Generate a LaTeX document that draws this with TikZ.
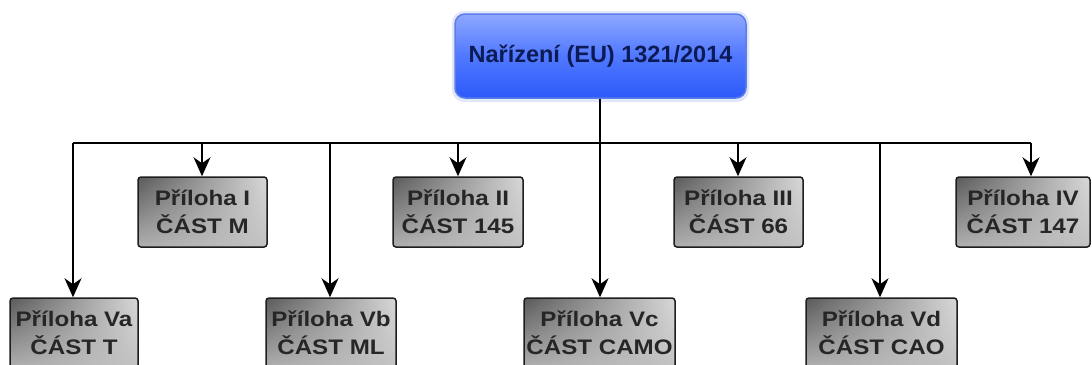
\documentclass[tikz,border=0pt]{standalone}
\usepackage{fontspec}
\setmainfont{Liberation Sans}
\newfontfamily\boxfont[FakeStretch=1.15]{Liberation Sans}
\usetikzlibrary{arrows.meta,shadings}
\definecolor{regtop}{HTML}{8EA7FF}
\definecolor{regmid}{HTML}{5078FF}
\definecolor{regbot}{HTML}{2D5AFA}
\definecolor{regedge}{HTML}{5C7EE6}
\definecolor{regtext}{HTML}{0C1B55}
\definecolor{boxUL}{HTML}{5A5A5A}
\definecolor{boxUR}{HTML}{D8D8D8}
\definecolor{boxLL}{HTML}{B0B0B0}
\definecolor{boxLR}{HTML}{C2C2C2}
\definecolor{boxedge}{HTML}{1E1E1E}
\tikzset{
  regbox/.style={draw=regedge, line width=1.5pt, rounded corners=10pt,
    top color=regtop, bottom color=regbot, middle color=regmid,
    minimum width=291pt, minimum height=84pt, inner sep=0pt,
    text=regtext, font=\fontsize{23.5}{28}\selectfont\bfseries},
  partbox/.style={draw=boxedge, line width=1.5pt, rounded corners=3pt,
    shade, upper left=boxUL, upper right=boxUR, lower left=boxLL, lower right=boxLR,
    minimum height=70pt, inner sep=0pt, align=center, text=black!85,
    font=\boxfont\fontsize{21}{28}\selectfont\bfseries},
  link/.style={line width=1.5pt, draw=black},
  arr/.style={link, -{Stealth[length=19pt, width=17pt, inset=6pt]}}
}
\begin{document}
\begin{tikzpicture}[x=1pt, y=-1pt]
  \useasboundingbox (0,0) rectangle (1092,364);
  \clip (0,0) rectangle (1092,364);
  \fill[white] (0,0) rectangle (1092,364);

  % root of the tree
  \fill[regedge, opacity=0.18, rounded corners=12pt] (452,11) rectangle (749,102);
  \node[regbox] (reg) at (600.5,56) {Nařízení (EU) 1321/2014};

  % upper row of annexes
  \node[partbox, minimum width=129pt] (p1)  at (202.5,212) {Příloha I\\ČÁST M};
  \node[partbox, minimum width=130pt] (p2)  at (458,212)   {Příloha II\\ČÁST 145};
  \node[partbox, minimum width=129pt] (p3)  at (738.5,212) {Příloha III\\ČÁST 66};
  \node[partbox, minimum width=134pt] (p4)  at (1023,212)  {Příloha IV\\ČÁST 147};

  % lower row of annexes
  \node[partbox, minimum width=128pt] (p5a) at (74,333)    {Příloha Va\\ČÁST T};
  \node[partbox, minimum width=130pt] (p5b) at (331,333)   {Příloha Vb\\ČÁST ML};
  \node[partbox, minimum width=151pt] (p5c) at (599.5,333) {Příloha Vc\\ČÁST CAMO};
  \node[partbox, minimum width=151pt] (p5d) at (881.5,333) {Příloha Vd\\ČÁST CAO};

  % distribution bus
  \coordinate (busL) at (73,143);
  \coordinate (busR) at (1031,143);
  \coordinate (busM) at (600,143);
  \coordinate (b1)  at (202,143);
  \coordinate (b2)  at (458,143);
  \coordinate (b3)  at (738,143);
  \coordinate (b5b) at (330,143);
  \coordinate (b5d) at (880,143);

  \draw[link] (reg.south -| busM) -- (busM);
  \draw[link] (busL) -- (busR);

  \draw[arr] (b1)   -- (b1 |- p1.north);
  \draw[arr] (b2)   -- (b2 |- p2.north);
  \draw[arr] (b3)   -- (b3 |- p3.north);
  \draw[arr] (busR) -- (busR |- p4.north);
  \draw[arr] (busL) -- (busL |- p5a.north);
  \draw[arr] (b5b)  -- (b5b |- p5b.north);
  \draw[arr] (busM) -- (busM |- p5c.north);
  \draw[arr] (b5d)  -- (b5d |- p5d.north);
\end{tikzpicture}
\end{document}
